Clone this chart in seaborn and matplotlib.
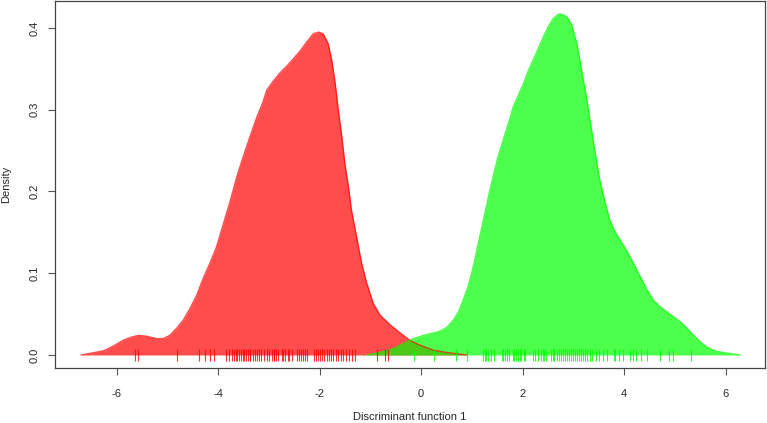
import matplotlib
matplotlib.use("Agg")
import matplotlib.pyplot as plt
import seaborn as sns
import numpy as np
import pandas as pd

# Density curves
red_x = [-6.70, -6.52, -6.26, -6.06, -5.87, -5.70, -5.57, -5.41, -5.21, -5.08, -4.95, -4.81,
         -4.68, -4.55, -4.42, -4.29, -4.16, -4.03, -3.90, -3.76, -3.63, -3.50, -3.37, -3.24,
         -3.11, -3.04, -2.91, -2.78, -2.65, -2.52, -2.38, -2.25, -2.12, -2.02, -1.93, -1.83,
         -1.76, -1.69, -1.63, -1.56, -1.50, -1.43, -1.37, -1.27, -1.17, -1.07, -0.94, -0.81,
         -0.61, -0.41, -0.22, -0.02, 0.24, 0.51, 0.77, 0.90]
red_y = [0.000, 0.002, 0.005, 0.011, 0.018, 0.022, 0.024, 0.023, 0.020, 0.020, 0.024, 0.033,
         0.043, 0.057, 0.073, 0.094, 0.112, 0.132, 0.159, 0.188, 0.218, 0.243, 0.267, 0.290,
         0.310, 0.324, 0.335, 0.345, 0.353, 0.362, 0.372, 0.383, 0.393, 0.395, 0.393, 0.381,
         0.361, 0.332, 0.300, 0.267, 0.234, 0.206, 0.177, 0.145, 0.112, 0.088, 0.063, 0.049,
         0.037, 0.027, 0.018, 0.012, 0.006, 0.003, 0.001, 0.000]

green_x = [-1.07, -0.81, -0.54, -0.35, -0.15, 0.05, 0.24, 0.37, 0.51, 0.64, 0.74, 0.83, 0.93,
           1.03, 1.13, 1.23, 1.33, 1.42, 1.52, 1.62, 1.72, 1.82, 1.92, 2.02, 2.11, 2.21, 2.31,
           2.41, 2.51, 2.61, 2.71, 2.77, 2.87, 2.97, 3.07, 3.13, 3.20, 3.27, 3.33, 3.40, 3.46,
           3.53, 3.63, 3.72, 3.82, 3.92, 4.02, 4.12, 4.22, 4.32, 4.45, 4.58, 4.71, 4.84, 4.97,
           5.10, 5.24, 5.37, 5.50, 5.63, 5.79, 5.96, 6.29]
green_y = [0.000, 0.003, 0.008, 0.014, 0.020, 0.024, 0.027, 0.029, 0.034, 0.043, 0.053, 0.067,
           0.084, 0.108, 0.137, 0.165, 0.194, 0.218, 0.243, 0.263, 0.283, 0.304, 0.318, 0.332,
           0.347, 0.361, 0.375, 0.389, 0.402, 0.412, 0.417, 0.417, 0.414, 0.404, 0.381, 0.361,
           0.336, 0.312, 0.287, 0.260, 0.236, 0.212, 0.186, 0.165, 0.151, 0.141, 0.131, 0.120,
           0.108, 0.096, 0.080, 0.067, 0.059, 0.053, 0.047, 0.041, 0.033, 0.024, 0.016, 0.010,
           0.005, 0.003, 0.000]

# Rug observations
red_obs = [-5.64, -5.57, -4.81, -4.37, -4.26, -4.16, -4.07, -3.84, -3.78, -3.72, -3.68, -3.65,
           -3.62, -3.59, -3.55, -3.51, -3.49, -3.45, -3.41, -3.37, -3.36, -3.32, -3.27, -3.23,
           -3.19, -3.15, -3.09, -3.04, -3.00, -2.94, -2.90, -2.89, -2.86, -2.81, -2.74, -2.71,
           -2.67, -2.63, -2.60, -2.54, -2.45, -2.41, -2.37, -2.33, -2.28, -2.24, -2.11, -2.07,
           -2.02, -1.99, -1.96, -1.91, -1.86, -1.82, -1.78, -1.73, -1.67, -1.63, -1.58, -1.53,
           -1.48, -1.41, -1.36, -1.30, -0.87, -0.71, -0.66]
green_obs = [-0.13, 0.26, 0.68, 0.90, 1.23, 1.26, 1.29, 1.33, 1.37, 1.44, 1.59, 1.62, 1.66,
             1.70, 1.74, 1.81, 1.84, 1.87, 1.91, 1.95, 1.98, 2.02, 2.05, 2.21, 2.25, 2.31, 2.36,
             2.40, 2.42, 2.46, 2.56, 2.60, 2.63, 2.67, 2.71, 2.75, 2.79, 2.84, 2.87, 2.91, 2.95,
             2.99, 3.04, 3.07, 3.11, 3.15, 3.20, 3.23, 3.28, 3.33, 3.37, 3.45, 3.51, 3.59, 3.66,
             3.80, 3.82, 3.90, 3.99, 4.12, 4.18, 4.23, 4.33, 4.46, 4.70, 4.89, 4.96, 5.32]

x_ticks = [-6, -4, -2, 0, 2, 4, 6]
y_ticks = [0.0, 0.1, 0.2, 0.3, 0.4]

sns.set_style("white")
plt.rcParams['font.family'] = ['Liberation Sans', 'DejaVu Sans']

fig = plt.figure(figsize=(7.67, 4.23), dpi=100)
ax = fig.add_axes([55/767, 1 - 368/423, (765-55)/767, (368-1)/423])

red_fill = (1, 0, 0, 0.7)
green_fill = (0, 1, 0, 0.7)

red_df = pd.DataFrame({"x": red_x, "y": red_y})
green_df = pd.DataFrame({"x": green_x, "y": green_y})

ax.fill_between(red_df.x, red_df.y, color=red_fill, linewidth=0)
sns.lineplot(data=red_df, x="x", y="y", ax=ax, color=(1, 0, 0), alpha=0.7, linewidth=1.0, sort=False)
ax.fill_between(green_df.x, green_df.y, color=green_fill, linewidth=0)
sns.lineplot(data=green_df, x="x", y="y", ax=ax, color=(0, 1, 0), alpha=0.7, linewidth=1.0, sort=False)

ax.plot(red_obs, np.zeros(len(red_obs)), linestyle="none", marker="|", markersize=8,
        markeredgewidth=0.8, color=(1, 0, 0), alpha=0.8)
ax.plot(green_obs, np.zeros(len(green_obs)), linestyle="none", marker="|", markersize=8,
        markeredgewidth=0.8, color=(0, 1, 0), alpha=0.8)

ax.set_xlim((55 - 421) / 50.75, (765 - 421) / 50.75)
ax.set_ylim((355 - 368) / 817.5, (355 - 1) / 817.5)
ax.set_xticks(x_ticks)
ax.set_xticklabels([str(t) for t in x_ticks], fontsize=8)
ax.set_yticks(y_ticks)
ax.set_yticklabels([f"{t:.1f}" for t in y_ticks], fontsize=8, rotation=90, va="center")
ax.tick_params(axis="both", direction="out", length=5, width=0.8, color="#555555",
               bottom=True, left=True, pad=6)
ax.tick_params(axis="x", pad=10)
for s in ax.spines.values():
    s.set_color("#444444")
    s.set_linewidth(0.9)
    s.set_visible(True)

ax.set_xlabel("Discriminant function 1", fontsize=8, va="bottom")
ax.set_ylabel("Density", fontsize=8)
ax.xaxis.set_label_coords(0.5, -(422 - 368) / 367, transform=ax.transAxes)
ax.yaxis.set_label_coords(-44 / 710, 0.5, transform=ax.transAxes)

fig.savefig("out.png", dpi=100)
